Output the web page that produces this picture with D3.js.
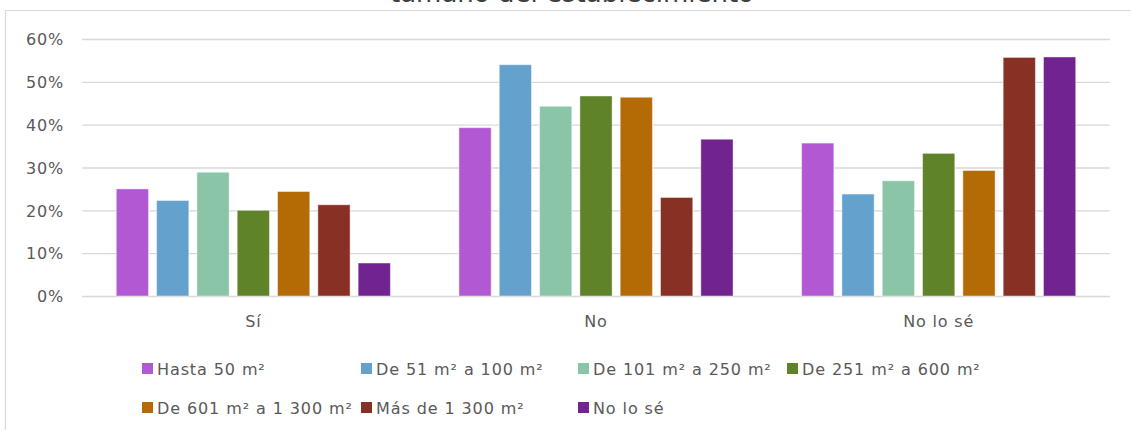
<!DOCTYPE html>
<html><head><meta charset="utf-8">
<script src="https://cdn.jsdelivr.net/npm/d3@7"></script>
<style>html,body{margin:0;padding:0;background:#fff;overflow:hidden}</style>
</head><body>
<svg id="c" width="1131" height="430"></svg>
<script>
const categories = ["Sí", "No", "No lo sé"];
const seriesNames = ["Hasta 50 m²", "De 51 m² a 100 m²", "De 101 m² a 250 m²", "De 251 m² a 600 m²", "De 601 m² a 1 300 m²", "Más de 1 300 m²", "No lo sé"];
const seriesColors = ["#B258D3", "#64A1CD", "#8BC5A8", "#5F8329", "#B46B06", "#873023", "#71238F"];
const hasta50 = [0.250, 0.393, 0.357];
const de51a100 = [0.223, 0.540, 0.238];
const de101a250 = [0.289, 0.443, 0.269];
const de251a600 = [0.200, 0.467, 0.333];
const de601a1300 = [0.244, 0.464, 0.293];
const masDe1300 = [0.213, 0.230, 0.557];
const noLoSe = [0.077, 0.366, 0.558];
const yTicks = [0, 0.1, 0.2, 0.3, 0.4, 0.5, 0.6];
const titleText = "tamaño del establecimiento";

const seriesValues = [hasta50, de51a100, de101a250, de251a600, de601a1300, masDe1300, noLoSe];
const svg = d3.select("#c");
const FONT = "DejaVu Sans";
const txt = "#595959";

// frame
svg.append("path").attr("d", "M5.5,430 L5.5,10.5 L1131,10.5").attr("fill", "none").attr("stroke", "#D9D9D9").attr("stroke-width", 1.2);

// title (cut off at the top edge, as in the reference)
svg.append("text").attr("x", 572).attr("y", 2).attr("text-anchor", "middle")
  .attr("font-family", FONT).attr("font-size", 26).attr("fill", "#404040").text(titleText);

const x0 = d3.scaleBand().domain(categories).range([82, 1110]).paddingInner(0.2).paddingOuter(0.1);
const x1 = d3.scaleBand().domain(d3.range(seriesNames.length)).range([0, x0.bandwidth()]).paddingInner(0.2);
const y = d3.scaleLinear().domain([0, 0.6]).range([296, 39]);

// grid
const yAxis = d3.axisLeft(y).tickValues(yTicks).tickFormat(d3.format(".0%")).tickSize(-(1110 - 82)).tickPadding(18);
const gy = svg.append("g").attr("transform", "translate(82,0)").call(yAxis);
gy.select(".domain").remove();
gy.selectAll(".tick line").attr("stroke", "#D9D9D9").attr("stroke-width", 1.4);
gy.selectAll(".tick text").attr("font-family", FONT).attr("font-size", 16).attr("fill", txt)
  .attr("letter-spacing", 0.8).attr("dy", "0.36em");

// bars
categories.forEach((c, ci) => {
  const g = svg.append("g").attr("transform", `translate(${x0(c)},0)`);
  g.selectAll("rect").data(seriesValues.map((s, si) => ({ si, v: s[ci] }))).join("rect")
    .attr("x", d => x1(d.si)).attr("width", x1.bandwidth())
    .attr("y", d => y(d.v)).attr("height", d => y(0) - y(d.v))
    .attr("fill", d => seriesColors[d.si])
    .attr("stroke", "#fff").attr("stroke-opacity", 0.45).attr("stroke-width", 1);
});

// category axis labels
const xAxis = d3.axisBottom(x0).tickSize(0).tickPadding(0);
const gx = svg.append("g").attr("transform", "translate(0,327)").call(xAxis);
gx.select(".domain").remove();
gx.selectAll(".tick text").attr("font-family", FONT).attr("font-size", 16).attr("fill", txt)
  .attr("letter-spacing", 0.8).attr("dy", 0);

// legend
const colX = [142, 361, 578, 787];
const rowY = [363, 402];
seriesNames.forEach((n, i) => {
  const cx = colX[i % 4], ry = rowY[Math.floor(i / 4)];
  const g = svg.append("g").attr("transform", `translate(${cx},${ry})`);
  g.append("rect").attr("width", 11).attr("height", 11).attr("fill", seriesColors[i]);
  g.append("text").attr("x", 15).attr("y", 11.5).attr("font-family", FONT).attr("font-size", 16)
    .attr("letter-spacing", 0.9).attr("fill", txt).text(n);
});
</script>
</body></html>
